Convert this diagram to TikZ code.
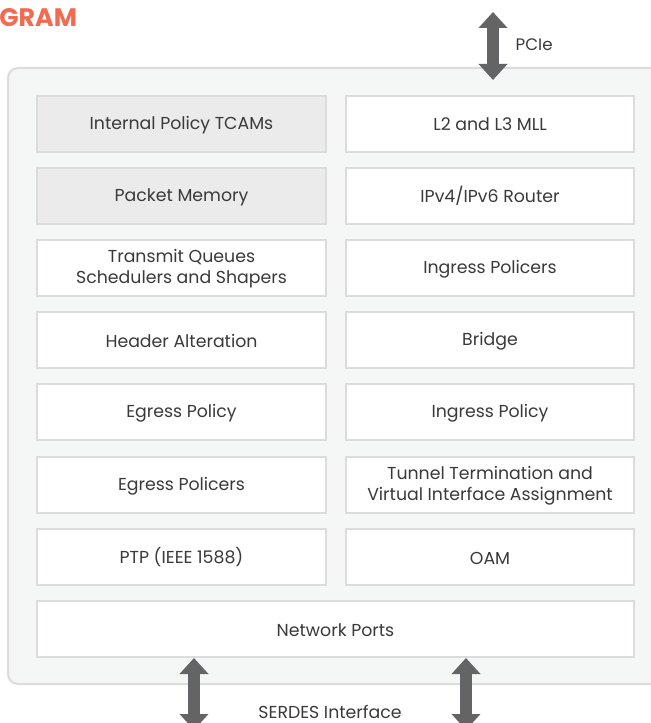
\documentclass[tikz,border=0pt]{standalone}
\usepackage{fontspec}
\setmainfont{Poppins}
\usetikzlibrary{arrows.meta}
\definecolor{frameline}{HTML}{DCDCDC}
\definecolor{framefill}{HTML}{F5F6F6}
\definecolor{shade}{HTML}{EBEBEB}
\definecolor{ink}{HTML}{3A3A3A}
\definecolor{pipe}{HTML}{636466}
\definecolor{heading}{HTML}{F26A4F}
\newcommand\lnstrut{\rule[-1pt]{0pt}{12.5pt}}
\tikzset{
  blk/.style={draw=frameline, line width=1.5pt, fill=white, text=ink,
    minimum width=216.5pt, minimum height=42pt, inner sep=0pt,
    align=center, font=\fontsize{13}{15.75}\selectfont},
  graybox/.style={blk, fill=shade},
  bus/.style={draw=pipe, line width=9pt,
    {Triangle[width=21pt,length=12pt]}-{Triangle[width=21pt,length=12pt]}}
}
\begin{document}
\begin{tikzpicture}[x=0.75pt, y=-0.75pt]
  \useasboundingbox (0,0) rectangle (650,723);
  % chip outline
  \draw[draw=frameline, fill=framefill, line width=1.5pt, rounded corners=7.5pt]
    (8,68) rectangle (670,684);
  \node[anchor=west, inner sep=0pt, text=heading,
    font=\fontsize{19}{22}\selectfont\bfseries] (title) at (-1,18) {GRAM};
  % left column
  \node[graybox] (tcam) at (181.5,124) {\lnstrut Internal Policy TCAMs};
  \node[graybox] (pktmem) at (181.5,196) {\lnstrut Packet Memory};
  \node[blk] (txq) at (181.5,268) {\lnstrut Transmit Queues\\\lnstrut Schedulers and Shapers};
  \node[blk] (hdr) at (181.5,340) {\lnstrut Header Alteration};
  \node[blk] (egpol) at (181.5,412) {\lnstrut Egress Policy};
  \node[blk] (egpolc) at (181.5,485) {\lnstrut Egress Policers};
  \node[blk] (ptp) at (181.5,557) {\lnstrut PTP (IEEE 1588)};
  % right column
  \node[blk] (mll) at (490,124) {\lnstrut L2 and L3 MLL};
  \node[blk] (router) at (490,196) {\lnstrut IPv4/IPv6 Router};
  \node[blk] (ingpolc) at (490,268) {\lnstrut Ingress Policers};
  \node[blk] (bridge) at (490,340) {\lnstrut Bridge};
  \node[blk] (ingpol) at (490,412) {\lnstrut Ingress Policy};
  \node[blk] (tunnel) at (490,485) {\lnstrut Tunnel Termination and\\\lnstrut Virtual Interface Assignment};
  \node[blk] (oam) at (490,557) {\lnstrut OAM};
  \node[blk, minimum width=447.75pt] (ports) at (335.5,629) {\lnstrut Network Ports};
  % host and line side
  \coordinate (pcitop) at (493,12);
  \coordinate (pcibot) at (493,80);
  \coordinate (serdesa) at (194,730);
  \coordinate (serdesb) at (466,730);
  \draw[bus] (pcitop) -- (pcibot);
  \draw[bus] (ports.south -| serdesa) -- (serdesa);
  \draw[bus] (ports.south -| serdesb) -- (serdesb);
  \node[anchor=west, text=ink, font=\fontsize{12.5}{15}\selectfont] (pcie) at (511,45) {PCIe};
  \node[text=ink, font=\fontsize{13}{15}\selectfont] (serdes) at (330,712) {SERDES Interface};
\end{tikzpicture}
\end{document}
